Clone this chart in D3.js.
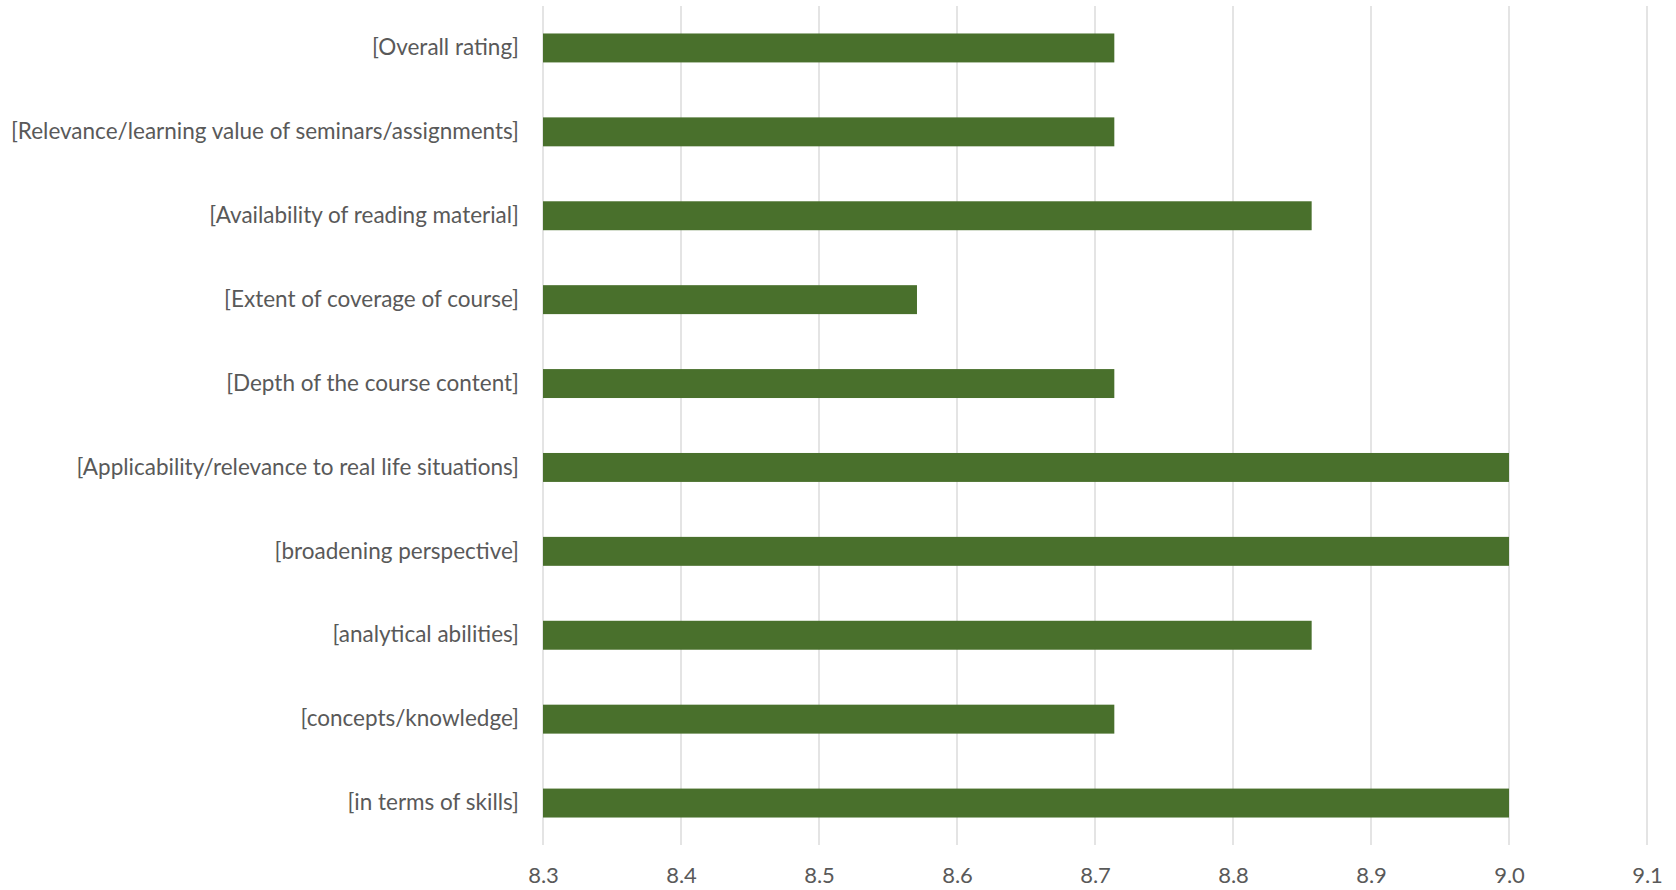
<!DOCTYPE html>
<html>
<head>
<meta charset="utf-8">
<script src="https://cdn.jsdelivr.net/npm/d3@7"></script>
<style>
  html, body { margin: 0; padding: 0; background: #fff; }
  svg { display: block; }
</style>
</head>
<body>
<script>
const categories = [
  "[Overall rating]",
  "[Relevance/learning value of seminars/assignments]",
  "[Availability of reading material]",
  "[Extent of coverage of course]",
  "[Depth of the course content]",
  "[Applicability/relevance to real life situations]",
  "[broadening perspective]",
  "[analytical abilities]",
  "[concepts/knowledge]",
  "[in terms of skills]"
];
const values = [8.714, 8.714, 8.857, 8.571, 8.714, 9.0, 9.0, 8.857, 8.714, 9.0];
const tickValues = [8.3, 8.4, 8.5, 8.6, 8.7, 8.8, 8.9, 9.0, 9.1];

const W = 1676, H = 890;
const margin = { left: 543, right: 29, top: 6, bottom: 45 };
const FONT = "Lato, 'Open Sans', sans-serif";
const TEXT = "#595959";

const svg = d3.select("body").append("svg").attr("width", W).attr("height", H);

const x = d3.scaleLinear().domain([8.3, 9.1]).range([margin.left, W - margin.right]);
const y = d3.scaleBand().domain(categories)
  .range([margin.top, H - margin.bottom])
  .paddingInner(0.655).paddingOuter(0.3275);

// gridlines
svg.append("g").selectAll("line").data(tickValues).join("line")
  .attr("x1", d => x(d)).attr("x2", d => x(d))
  .attr("y1", margin.top).attr("y2", H - margin.bottom)
  .attr("stroke", "#d9d9d9").attr("stroke-width", 1.4);

// bars
svg.append("g").selectAll("rect").data(categories).join("rect")
  .attr("x", x(8.3))
  .attr("y", d => y(d))
  .attr("width", (d, i) => x(values[i]) - x(8.3))
  .attr("height", y.bandwidth())
  .attr("fill", "#49702C");

// x axis tick labels
const xAxis = d3.axisBottom(x).tickValues(tickValues).tickFormat(d3.format(".1f")).tickSize(0).tickPadding(0);
const gx = svg.append("g").attr("transform", `translate(0, ${H - margin.bottom})`).call(xAxis);
gx.select(".domain").remove();
gx.selectAll("text")
  .attr("y", 0).attr("dy", 0)
  .attr("transform", "translate(0, 38)")
  .attr("fill", TEXT).style("font-family", FONT).style("font-size", "22px");

// y axis labels
const yAxis = d3.axisLeft(y).tickSize(0).tickPadding(24);
const gy = svg.append("g").attr("transform", `translate(${margin.left}, 0)`).call(yAxis);
gy.select(".domain").remove();
gy.selectAll("text")
  .attr("fill", TEXT).style("font-family", FONT).style("font-size", "22.5px");
</script>
</body>
</html>
